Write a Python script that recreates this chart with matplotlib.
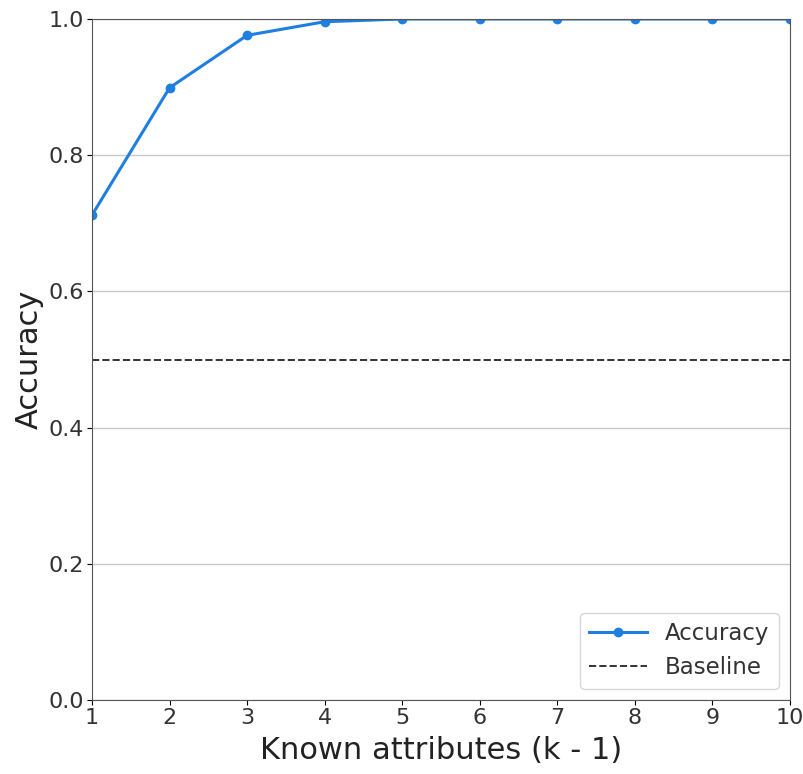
import matplotlib
matplotlib.use("Agg")
import matplotlib.pyplot as plt

k_values = [1, 2, 3, 4, 5, 6, 7, 8, 9, 10]
accuracy = [0.712, 0.899, 0.976, 0.996, 1.0, 1.0, 1.0, 1.0, 1.0, 1.0]
baseline = 0.5

fig = plt.figure(figsize=(8.04, 7.74), dpi=100)
ax = fig.add_axes([92/804, 74/774, 698/804, 681/774])
ax.plot(k_values, accuracy, color="#1E7FE0", marker="o", markersize=6, linewidth=2.2, label="Accuracy")
ax.axhline(baseline, color="#333333", linestyle="--", linewidth=1.4, label="Baseline")
ax.set_xlim(1, 10)
ax.set_ylim(0, 1.0)
ax.set_xticks(k_values)
ax.set_yticks([0.0, 0.2, 0.4, 0.6, 0.8, 1.0])
ax.yaxis.grid(True, color="#c8c8c8", linewidth=1)
ax.set_axisbelow(True)
ax.tick_params(labelsize=16, pad=2, labelcolor="#333333")
ax.set_xlabel("Known attributes (k - 1)", fontsize=22, labelpad=6, color="#222222")
ax.set_ylabel("Accuracy", fontsize=22, labelpad=4, color="#222222")
for s in ax.spines.values():
    s.set_color("#555555")
leg = ax.legend(loc="lower right", fontsize=16.5, handlelength=2.5)
for t in leg.get_texts():
    t.set_color("#333333")
fig.savefig("out.png", dpi=100)
